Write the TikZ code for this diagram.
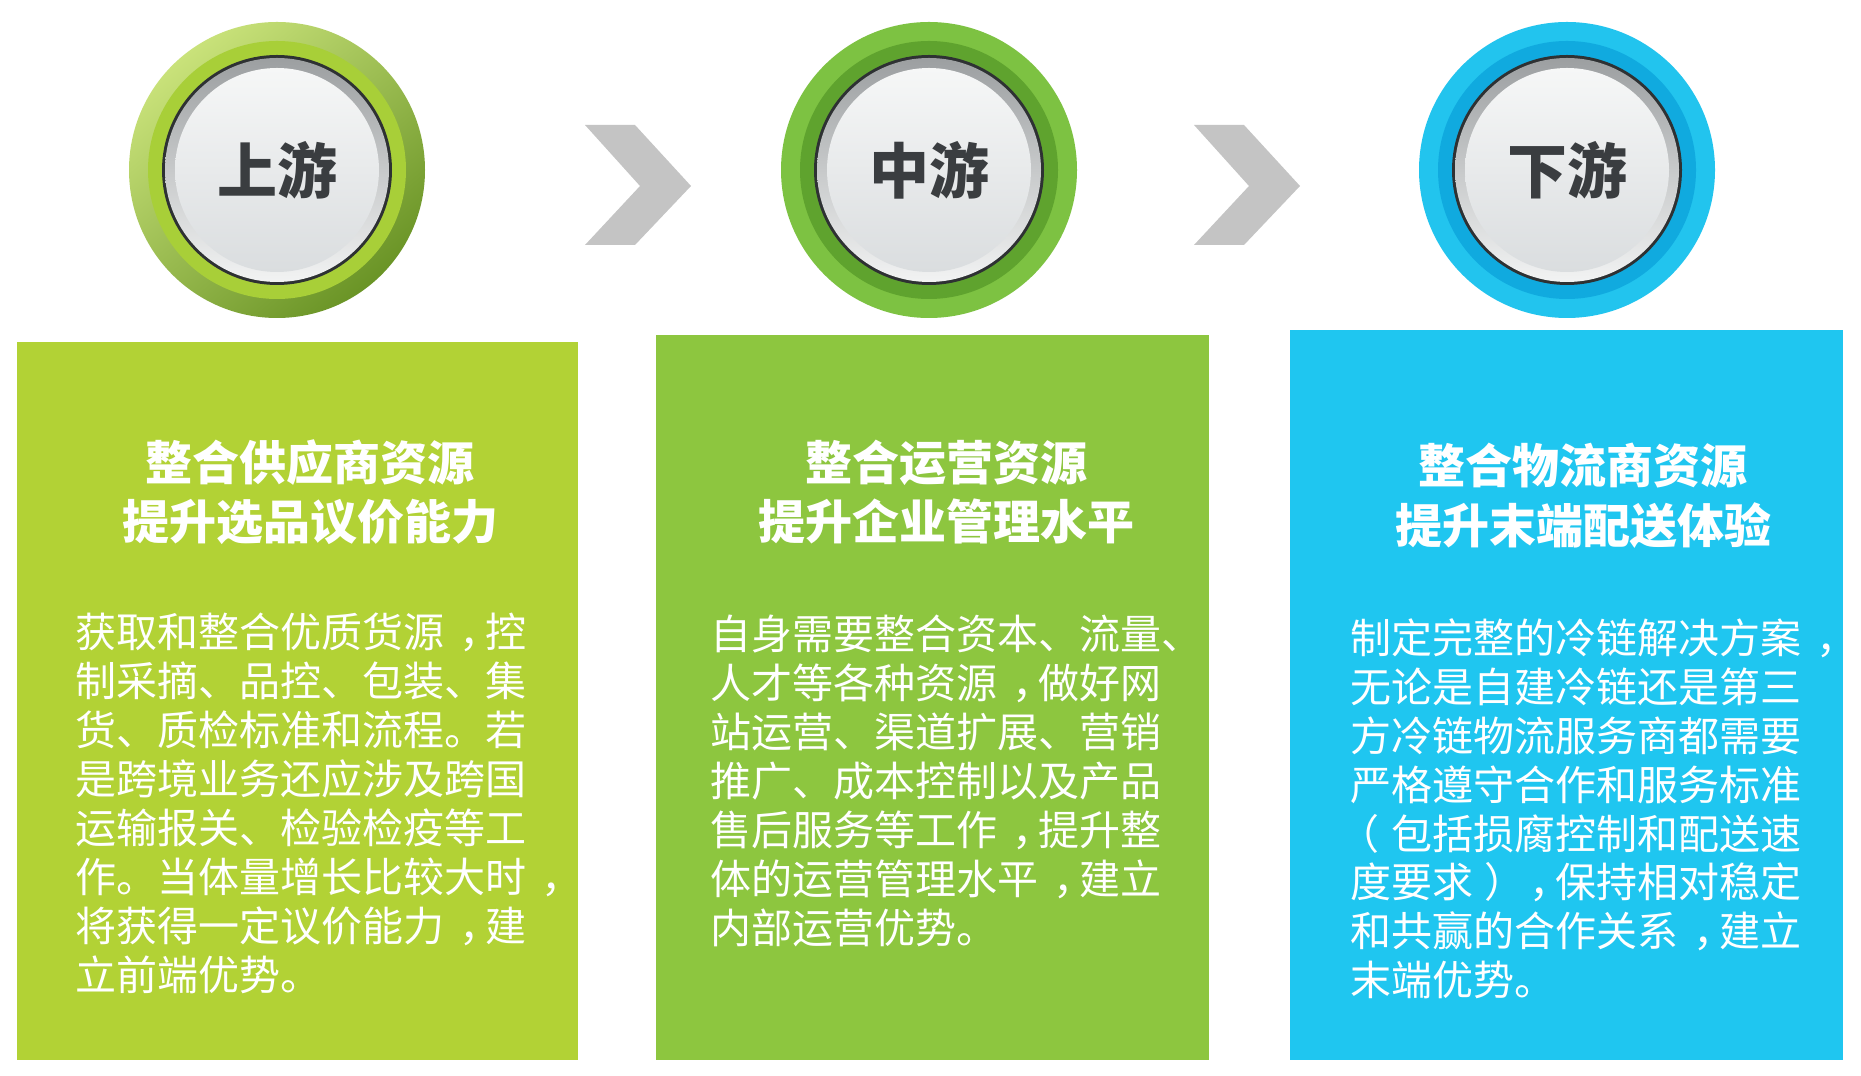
\documentclass[tikz,border=0pt]{standalone}
\usepackage{fontspec}
\newfontfamily\cjk{Noto Sans CJK SC}
\newcommand\zc{\makebox[1em][l]{\hspace{0.38em}，}}
\newcommand\zlp{\makebox[1em][l]{\hspace{-0.28em}（}}
\newcommand\zrp{\makebox[1em][l]{\hspace{0.28em}）}}
\definecolor{boxA}{HTML}{B2D235}
\definecolor{boxB}{HTML}{8DC63F}
\definecolor{boxC}{HTML}{1FC6F0}
\definecolor{chevgray}{HTML}{C4C4C4}
\definecolor{labelgray}{HTML}{3A3D40}
\definecolor{ringdark}{HTML}{2E3133}
\definecolor{aLight}{HTML}{C9E27A}
\definecolor{aDark}{HTML}{6A9426}
\definecolor{aBand}{HTML}{A8CF38}
\definecolor{bOuter}{HTML}{7DC242}
\definecolor{bBand}{HTML}{5FA32E}
\definecolor{cOuter}{HTML}{22C4EE}
\definecolor{cBand}{HTML}{10AADF}
\definecolor{btnTop}{HTML}{9C9FA1}
\definecolor{btnBot}{HTML}{F2F3F3}
\definecolor{faceTop}{HTML}{F6F7F7}
\definecolor{faceBot}{HTML}{DADDDF}
\tikzset{
  panel/.style={rectangle, inner sep=0pt, draw=none, anchor=south west},
  ttl/.style={font=\cjk\bfseries\fontsize{47}{56}\selectfont, text=white, anchor=base, inner sep=0pt},
  body/.style={font=\cjk\fontsize{41}{49}\selectfont, text=white, anchor=base west, inner sep=0pt},
  lbl/.style={font=\cjk\bfseries\fontsize{60}{70}\selectfont, text=labelgray, inner sep=0pt},
  chev/.style={fill=chevgray, draw=none},
}
\begin{document}
\begin{tikzpicture}[x=1pt,y=1pt]
\useasboundingbox (0,0) rectangle (1861,1076);
\fill[white] (0,0) rectangle (1861,1076);

% panels
\node[panel, fill=boxA, minimum width=561pt, minimum height=718pt] (box1) at (17,16) {};
\node[panel, fill=boxB, minimum width=553pt, minimum height=725pt] (box2) at (656,16) {};
\node[panel, fill=boxC, minimum width=553pt, minimum height=730pt] (box3) at (1290,16) {};

% knobs
\coordinate (c1) at (277,906);
\coordinate (c2) at (929,906);
\coordinate (c3) at (1567,906);

\shade[top color=aLight, bottom color=aDark, shading angle=40] (c1) circle[radius=148];
\fill[aBand] (c1) circle[radius=129];
\fill[bOuter] (c2) circle[radius=148];
\fill[bBand] (c2) circle[radius=129];
\fill[cOuter] (c3) circle[radius=148];
\fill[cBand] (c3) circle[radius=129];
\foreach \c in {c1,c2,c3}{
  \fill[ringdark] (\c) circle[radius=115];
  \shade[top color=btnTop, bottom color=btnBot] (\c) circle[radius=112];
  \shade[top color=faceTop, bottom color=faceBot] (\c) circle[radius=102];
}
\node[lbl] (l1) at (c1) {上游};
\node[lbl] (l2) at (c2) {中游};
\node[lbl] (l3) at (c3) {下游};

% chevrons
\fill[chev] (585,951) -- (635,951) -- (691,890) -- (635,831) -- (585,831) -- (640,890) -- cycle;
\fill[chev] (1194,951) -- (1244,951) -- (1300,890) -- (1244,831) -- (1194,831) -- (1249,890) -- cycle;

% titles
\node[ttl] (t1a) at (310,595) {整合供应商资源};
\node[ttl] (t1b) at (310,536) {提升选品议价能力};
\node[ttl] (t2a) at (946,595) {整合运营资源};
\node[ttl] (t2b) at (946,536) {提升企业管理水平};
\node[ttl] (t3a) at (1583,592) {整合物流商资源};
\node[ttl] (t3b) at (1583,532) {提升末端配送体验};

% bodies
\foreach \t [count=\i] in {获取和整合优质货源\zc 控, 制采摘、品控、包装、集, 货、质检标准和流程。若, 是跨境业务还应涉及跨国, 运输报关、检验检疫等工, 作。当体量增长比较大时\zc, 将获得一定议价能力\zc 建, 立前端优势。}
  \node[body] (a\i) at (75,{428-(\i-1)*49}) {\t};
\foreach \t [count=\i] in {自身需要整合资本、流量、, 人才等各种资源\zc 做好网, 站运营、渠道扩展、营销, 推广、成本控制以及产品, 售后服务等工作\zc 提升整, 体的运营管理水平\zc 建立, 内部运营优势。}
  \node[body] (b\i) at (710,{426-(\i-1)*49}) {\t};
\foreach \t [count=\i] in {制定完整的冷链解决方案\zc, 无论是自建冷链还是第三, 方冷链物流服务商都需要, 严格遵守合作和服务标准, \zlp 包括损腐控制和配送速, 度要求\zrp\zc 保持相对稳定, 和共赢的合作关系\zc 建立, 末端优势。}
  \node[body] (d\i) at (1350,{422-(\i-1)*48.8}) {\t};
\end{tikzpicture}
\end{document}
